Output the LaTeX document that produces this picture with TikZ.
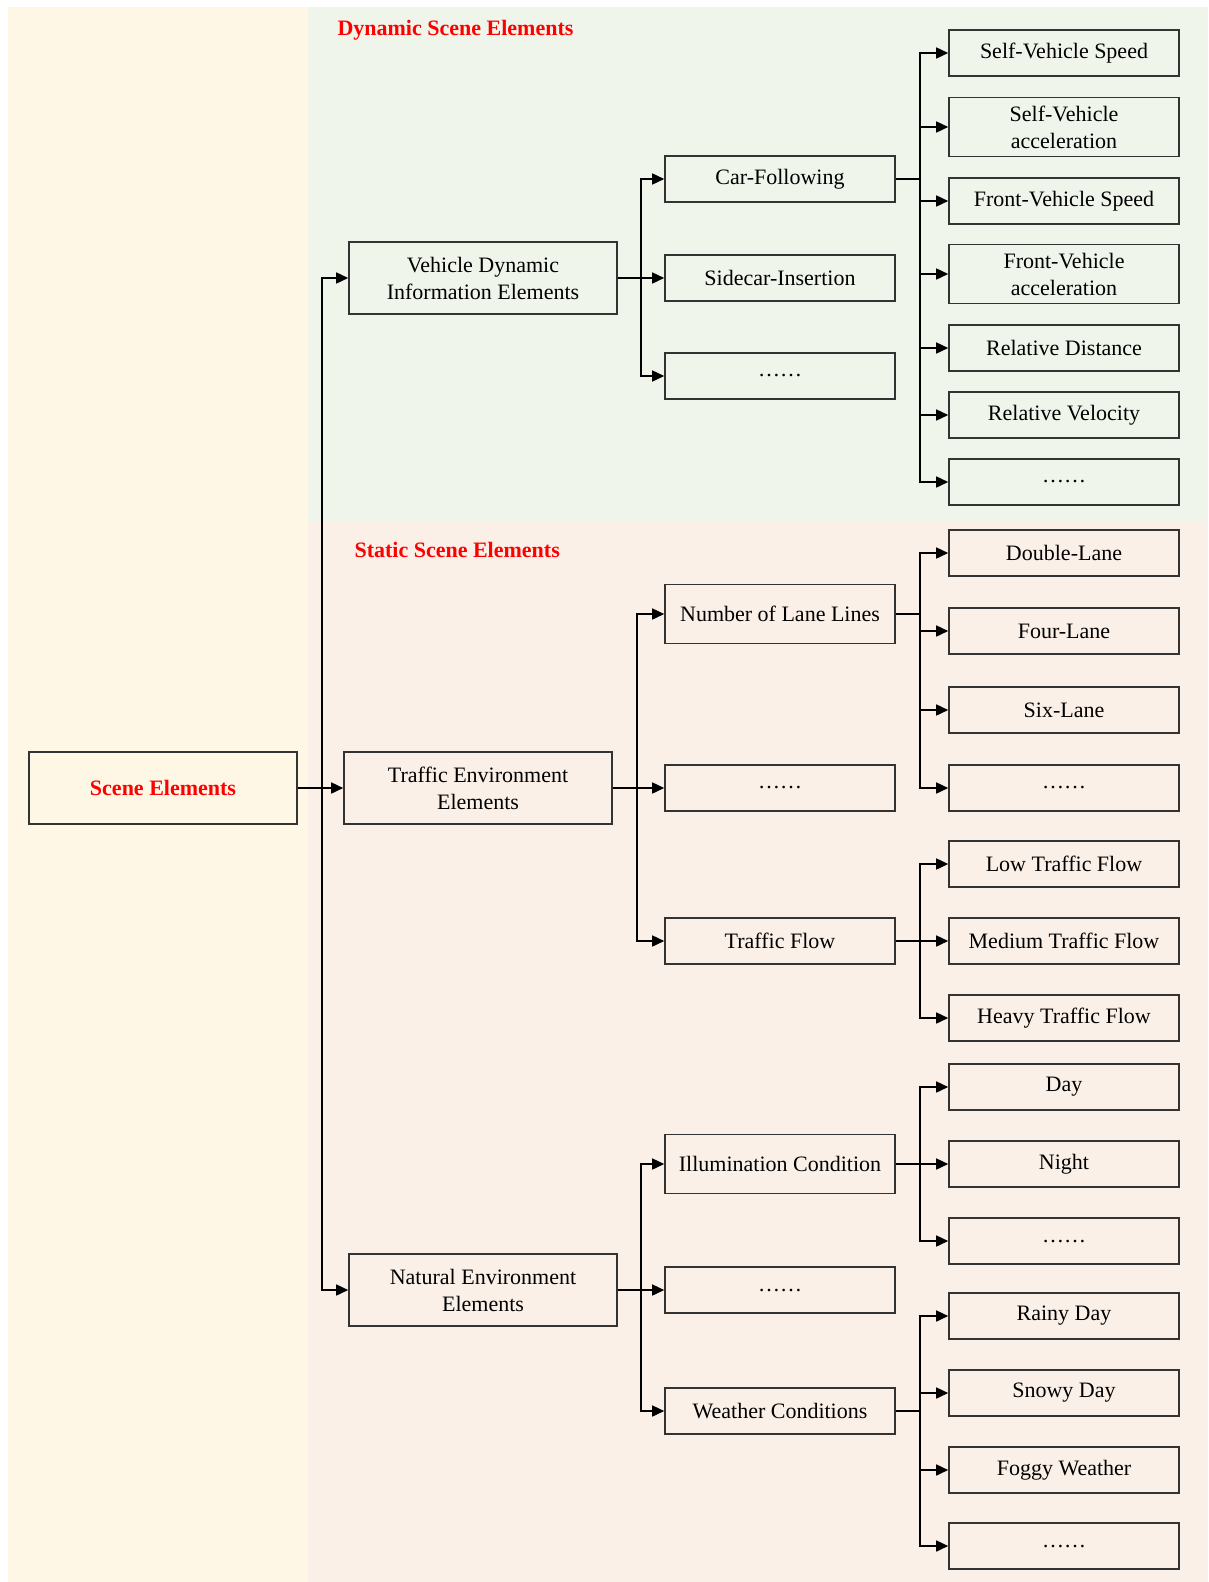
\documentclass[tikz,border=0pt]{standalone}
\usepackage{fontspec}
\setmainfont{Liberation Serif}
\usepackage{xcolor}
\usepackage{tikz}
\usetikzlibrary{arrows.meta}
\definecolor{creambg}{HTML}{FEF7E6}
\definecolor{dynbg}{HTML}{F0F5EB}
\definecolor{statbg}{HTML}{FBF0E8}
\definecolor{tagred}{HTML}{FF0000}

\begin{document}
\begin{tikzpicture}[x=1pt,y=-1pt,
    box/.style={draw=black!80,line width=1.6pt,inner sep=0pt,align=center,font=\fontsize{22}{27}\selectfont},
    root/.style={box,minimum width=268pt,minimum height=72pt},
    leaf/.style={box,minimum width=230pt,minimum height=46pt},
    tall/.style={leaf,minimum height=59pt},
    link/.style={line width=1.6pt,-{Triangle[length=12pt,width=11pt]}},
    tag/.style={anchor=west,text=tagred,font=\fontsize{22}{27}\selectfont\bfseries}]
    \useasboundingbox (0,0) rectangle (1208,1582);
    % panels
    \fill[creambg] (8,7) rectangle (308,1582);
    \fill[dynbg] (308,7) rectangle (1208,522);
    \fill[statbg] (308,522) rectangle (1208,1582);
    \node[tag] (dyntag) at (334,30) {Dynamic Scene Elements};
    \node[tag] (stattag) at (351,550) {Static Scene Elements};

    % level 1 and 2
    \node[root,text=tagred,font=\fontsize{22}{27}\selectfont\bfseries] (scene) at (163,788) {Scene Elements};
    \node[root] (vdi) at (483,278) {Vehicle Dynamic\\Information Elements};
    \node[root] (tee) at (478,788) {Traffic Environment\\Elements};
    \node[root] (nee) at (483,1290) {Natural Environment\\Elements};
    \foreach \n in {vdi,tee,nee} \draw[link] (scene.east) -- ++(24,0) |- (\n.west);

    % level 3
    \foreach \n/\y/\s/\t in {cf/179/leaf/Car-Following, side/278/leaf/Sidecar-Insertion, vdots/376/leaf/……,
        lanes/614/tall/Number of Lane Lines, tdots/788/leaf/……, flow/941/leaf/Traffic Flow,
        light/1164/tall/Illumination Condition, ndots/1290/leaf/……, weather/1411/leaf/Weather Conditions}
      \node[\s] (\n) at (780,\y) {\t};
    \foreach \n in {cf,side,vdots} \draw[link] (vdi.east) -- ++(23,0) |- (\n.west);
    \foreach \n in {lanes,tdots,flow} \draw[link] (tee.east) -- ++(24,0) |- (\n.west);
    \foreach \n in {light,ndots,weather} \draw[link] (nee.east) -- ++(23,0) |- (\n.west);

    % level 4
    \foreach \n/\y/\s/\t in {a1/53/leaf/Self-Vehicle Speed, a2/127/tall/{Self-Vehicle\\acceleration},
        a3/201/leaf/Front-Vehicle Speed, a4/274/tall/{Front-Vehicle\\acceleration},
        a5/348/leaf/Relative Distance, a6/415/leaf/Relative Velocity, a7/482/leaf/……,
        b1/553/leaf/Double-Lane, b2/631/leaf/Four-Lane, b3/710/leaf/Six-Lane, b4/788/leaf/……,
        c1/864/leaf/Low Traffic Flow, c2/941/leaf/Medium Traffic Flow, c3/1018/leaf/Heavy Traffic Flow,
        d1/1087/leaf/Day, d2/1164/leaf/Night, d3/1241/leaf/……,
        e1/1316/leaf/Rainy Day, e2/1393/leaf/Snowy Day, e3/1470/leaf/Foggy Weather, e4/1546/leaf/……}
      \node[\s] (\n) at (1064,\y) {\t};
    \foreach \n in {a1,a2,a3,a4,a5,a6,a7} \draw[link] (cf.east) -- ++(24,0) |- (\n.west);
    \foreach \n in {b1,b2,b3,b4} \draw[link] (lanes.east) -- ++(24,0) |- (\n.west);
    \foreach \n in {c1,c2,c3} \draw[link] (flow.east) -- ++(24,0) |- (\n.west);
    \foreach \n in {d1,d2,d3} \draw[link] (light.east) -- ++(24,0) |- (\n.west);
    \foreach \n in {e1,e2,e3,e4} \draw[link] (weather.east) -- ++(24,0) |- (\n.west);
  \end{tikzpicture}
\end{document}
